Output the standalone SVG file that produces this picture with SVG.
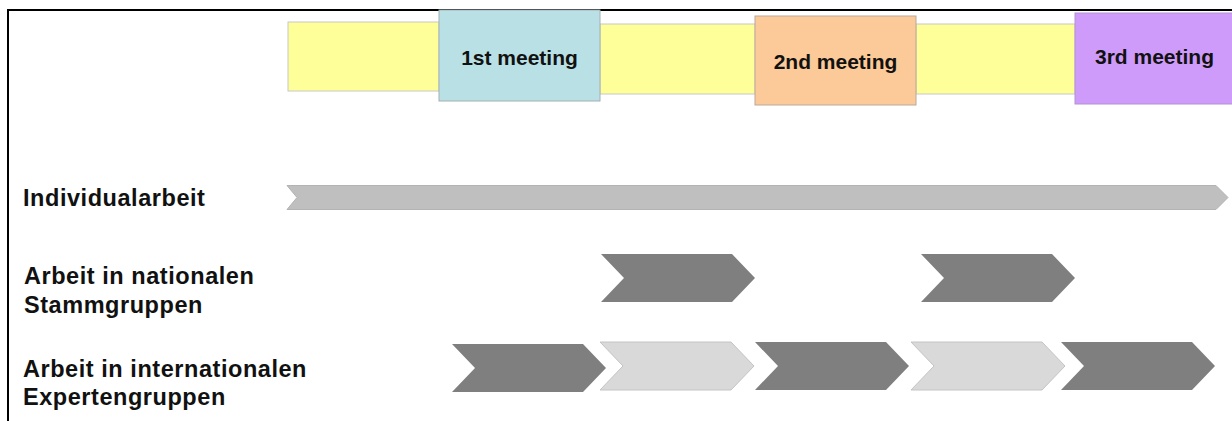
<svg xmlns="http://www.w3.org/2000/svg" width="1232" height="421" viewBox="0 0 1232 421">
  <style>
    .frame { stroke: #000; stroke-width: 2; fill: none; }
    .phase { fill: #ffff99; stroke: #c8c8c8; stroke-width: 1; }
    .meet { stroke-width: 1; }
    .meet-label { font-family: "Liberation Sans", Arial, sans-serif; font-weight: bold; font-size: 21px; fill: #111; text-anchor: middle; }
    .row-label { font-family: "Liberation Sans", Arial, sans-serif; font-weight: bold; font-size: 23.5px; letter-spacing: 0.55px; fill: #111; }
    .dark { fill: #7f7f7f; }
    .light { fill: #d9d9d9; stroke: #c4c4c4; stroke-width: 1; }
    .track { fill: #bfbfbf; stroke: #b3b3b3; stroke-width: 1; }
  </style>
  <defs>
    <!-- one chevron step, 154 x 48, origin at top-left -->
    <path id="chev" d="M0,0 H131 L154,24 L131,48 H0 L23,24 Z"/>
  </defs>

  <rect width="1232" height="421" fill="#fff"/>

  <!-- page frame (top and left edges) -->
  <g id="frame">
    <line class="frame" x1="7" y1="10" x2="1232" y2="10"/>
    <line class="frame" x1="8" y1="9" x2="8" y2="421"/>
  </g>

  <!-- timeline strip -->
  <g id="phases">
    <rect class="phase" x="288" y="22" width="151" height="69"/>
    <rect class="phase" x="600" y="24" width="155" height="70"/>
    <rect class="phase" x="916" y="24" width="159" height="70"/>
  </g>

  <g id="meeting1">
    <rect class="meet" x="439" y="10" width="161" height="91" fill="#b9e0e5" stroke="#a3b0b3"/>
    <text class="meet-label" x="519.5" y="65">1st meeting</text>
  </g>
  <g id="meeting2">
    <rect class="meet" x="755" y="16" width="161" height="89" fill="#fcc998" stroke="#b9aa9a"/>
    <text class="meet-label" x="835.5" y="68.5">2nd meeting</text>
  </g>
  <g id="meeting3">
    <rect class="meet" x="1075" y="13" width="160" height="91" fill="#cf9bfb" stroke="#b391d0"/>
    <text class="meet-label" x="1154.5" y="63.5">3rd meeting</text>
  </g>

  <!-- row labels -->
  <g id="label-individual">
    <text class="row-label" x="23" y="206">Individualarbeit</text>
  </g>
  <g id="label-national">
    <text class="row-label" x="24" y="284">Arbeit in nationalen</text>
    <text class="row-label" x="24" y="313">Stammgruppen</text>
  </g>
  <g id="label-international">
    <text class="row-label" x="23" y="377">Arbeit in internationalen</text>
    <text class="row-label" x="23" y="405">Expertengruppen</text>
  </g>

  <!-- activity arrows -->
  <g id="connectors">
    <polygon id="track-individual" class="track" points="287,185.5 1216,185.5 1228,197.5 1216,209.5 287,209.5 297,197.5"/>

    <use id="national-1" href="#chev" class="dark" x="601" y="254"/>
    <use id="national-2" href="#chev" class="dark" x="921" y="254"/>

    <use id="expert-1" href="#chev" class="dark" x="452" y="344"/>
    <use id="expert-2" href="#chev" class="light" x="600" y="342"/>
    <use id="expert-3" href="#chev" class="dark" x="755" y="342"/>
    <use id="expert-4" href="#chev" class="light" x="911" y="342"/>
    <use id="expert-5" href="#chev" class="dark" x="1061" y="342"/>
  </g>
</svg>
